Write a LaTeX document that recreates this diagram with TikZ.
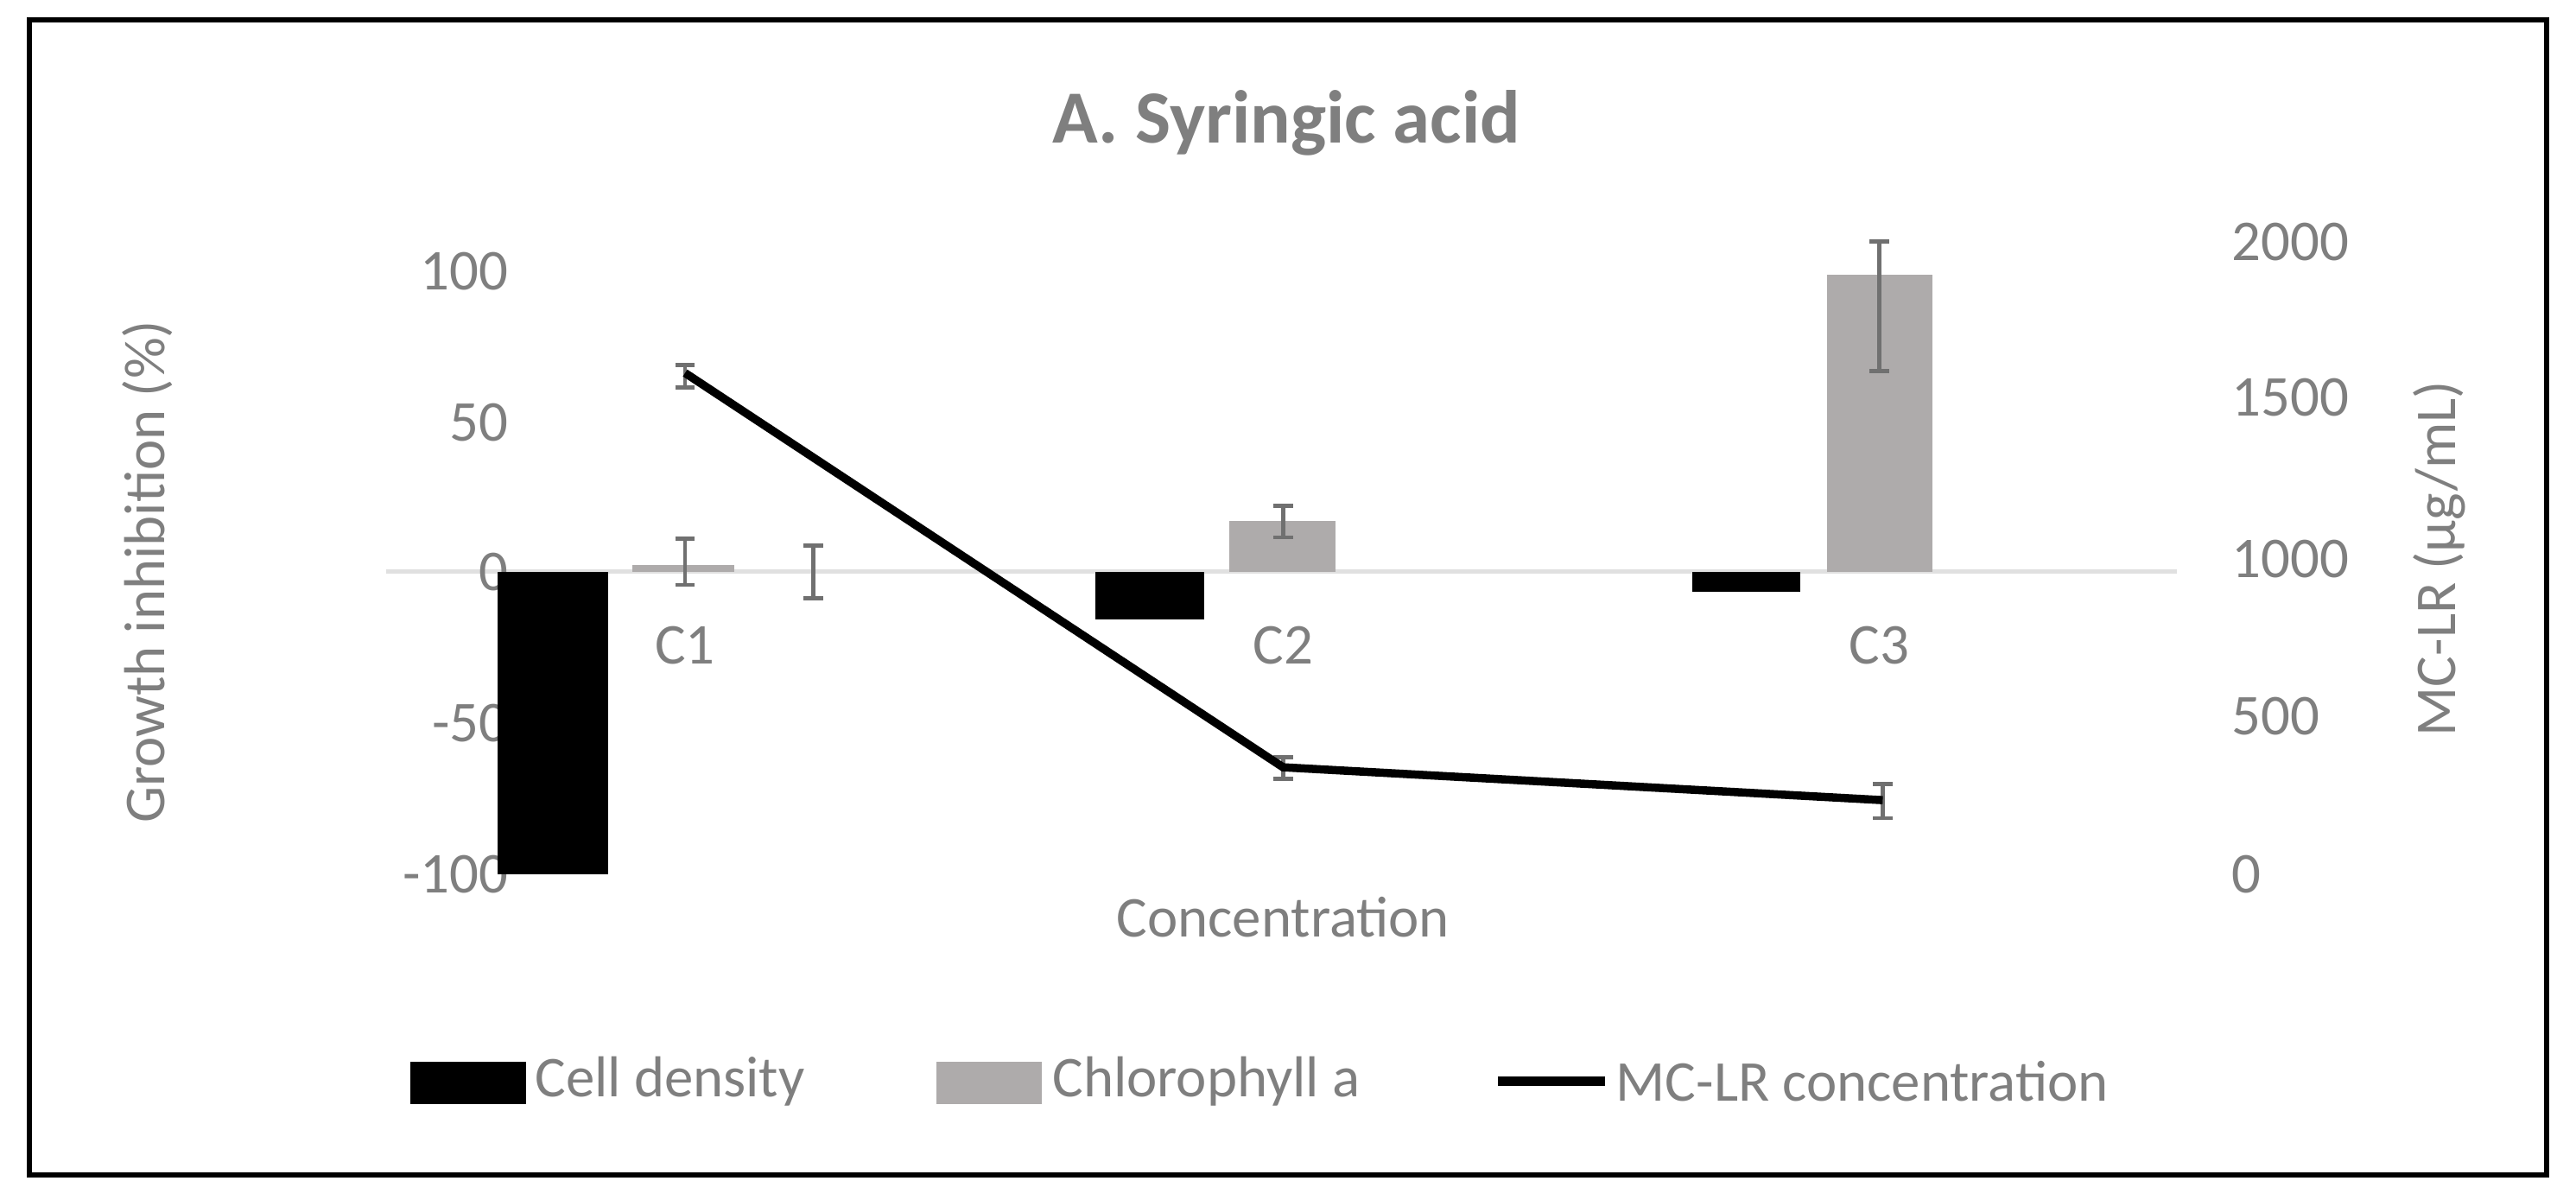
\documentclass[tikz,border=0pt]{standalone}
\usepackage{fontspec}
\setmainfont{Carlito}
\definecolor{tx}{HTML}{7F7F7F}
\definecolor{bar}{HTML}{AEABAB}
\definecolor{eb}{HTML}{707070}
\begin{document}
\begin{tikzpicture}[x=0.1mm,y=-0.1mm,
  lab/.style={text=tx,font=\fontsize{10}{12}\selectfont,inner sep=0},
  eb/.style={draw=eb,line width=0.25mm},
  dk/.style={fill=black},
  lt/.style={fill=bar}]
\useasboundingbox (0,0) rectangle (1568,730);
\draw[line width=0.3mm] (18,12) rectangle (1550,715);
\node[lab,font=\fontsize{13}{15}\selectfont\bfseries] (title) at (783,75) {A. Syringic acid};
\draw[draw=black!12,line width=0.25mm] (235,348) -- (1325,348);
% left ticks
\foreach \v/\y in {100/165,50/257,0/348,-50/440,-100/532}
  \node[lab,anchor=east] (l\y) at (310,\y) {\v};
\foreach \v/\y in {2000/147,1500/242,1000/340,500/436,0/532}
  \node[lab,anchor=west] (r\y) at (1358,\y) {\v};
\node[lab,rotate=90] (ya) at (90,348) {Growth inhibition (\%)};
\node[lab,rotate=90] (yb) at (1485,340) {MC-LR (µg/mL)};
\node[lab] (xa) at (781,558) {Concentration};
% bars
\fill[dk] (303,348) rectangle (370,532);
\fill[lt] (385,344) rectangle (447,348);
\fill[dk] (667,348) rectangle (733,377);
\fill[lt] (748,317) rectangle (813,348);
\fill[dk] (1030,348) rectangle (1096,360);
\fill[lt] (1112,167) rectangle (1176,348);
% error bars
\foreach \x/\a/\b in {417/328/356,495/332/364,781/308/327,1144/147/226,417/222/236,781/461/474,1146/477/498}{
  \draw[eb] (\x,\a) -- (\x,\b);
  \draw[eb] (\x-6,\a) -- (\x+6,\a);
  \draw[eb] (\x-6,\b) -- (\x+6,\b);}
% line
\coordinate (p1) at (417,227);
\coordinate (p2) at (781,467);
\coordinate (p3) at (1146,487);
\draw[line width=0.5mm] (p1) -- (p2) -- (p3);
\foreach \n/\x in {C1/417,C2/781,C3/1144}
  \node[lab] (\n) at (\x,393) {\n};
% legend
\fill[dk] (250,646) rectangle (320,672);
\node[lab,anchor=west] (lg1) at (325,658) {Cell density};
\fill[lt] (570,646) rectangle (634,672);
\node[lab,anchor=west] (lg2) at (640,658) {Chlorophyll a};
\coordinate (la) at (912,658);
\coordinate (lb) at (977,658);
\draw[line width=0.6mm] (la) -- (lb);
\node[lab,anchor=west] (lg3) at (983,658) {MC-LR concentration};
\end{tikzpicture}
\end{document}
